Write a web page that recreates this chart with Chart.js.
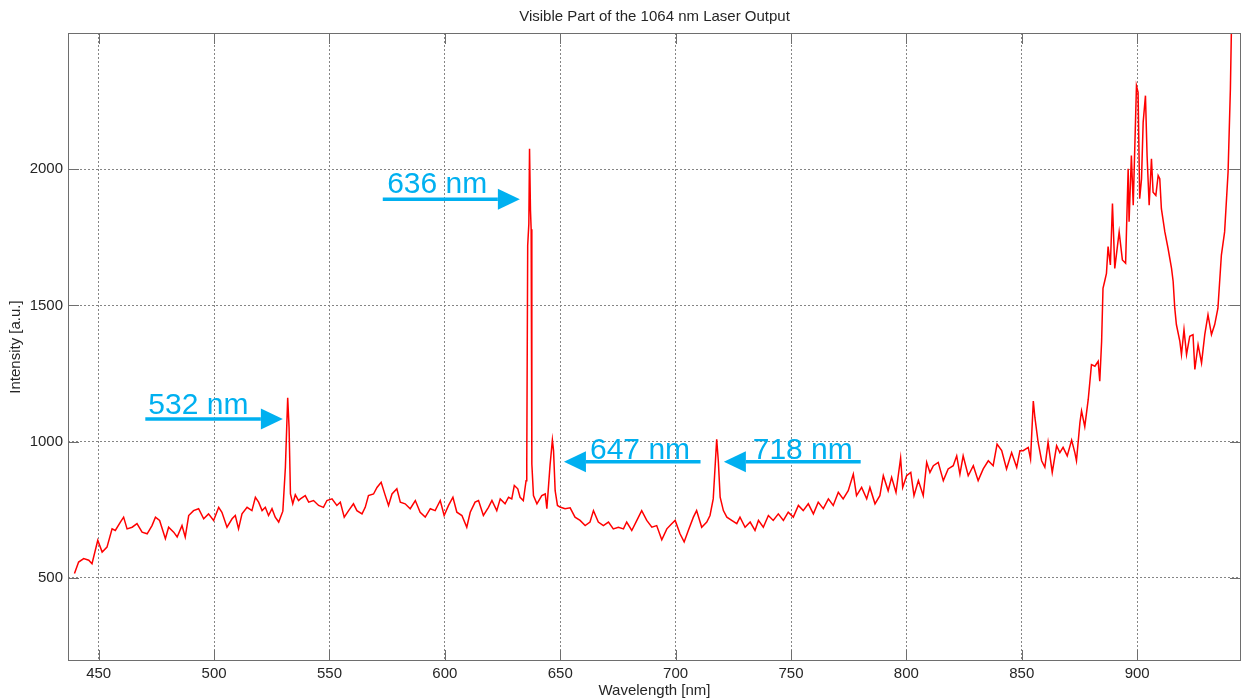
<!DOCTYPE html>
<html>
<head>
<meta charset="utf-8">
<script src="https://cdn.jsdelivr.net/npm/chart.js@4/dist/chart.umd.min.js"></script>
<style>
  body { margin: 0; background: #fff; }
  canvas { display: block; }
</style>
</head>
<body>
<canvas id="chart" width="1242" height="699"></canvas>
<script>
// spectrum
const wavelength = [
  439.5, 441.3, 443.5, 445.7, 447.1, 449.6, 451.5, 453.6, 455.8, 457.2,
  459.4, 460.8, 462.3, 464.5, 466.6, 468.8, 471.0, 473.1, 474.6, 476.4,
  478.9, 480.3, 482.5, 484.0, 486.1, 487.5, 489.0, 491.1, 493.3, 495.5,
  497.6, 499.8, 502.0, 503.4, 505.6, 507.8, 509.2, 510.6, 512.1, 514.3,
  516.4, 517.9, 519.3, 520.8, 522.2, 523.6, 525.1, 526.5, 528.0, 529.8,
  530.9, 531.9, 532.5, 533.1, 534.1, 535.2, 536.6, 537.4, 539.5, 541.0,
  543.1, 545.3, 547.4, 548.9, 551.1, 553.2, 554.7, 556.4, 558.3, 560.4,
  561.9, 564.1, 565.5, 566.9, 569.1, 570.6, 572.4, 574.2, 575.6, 577.1,
  579.2, 580.7, 582.8, 585.0, 587.2, 589.3, 591.5, 593.7, 595.8, 598.0,
  599.7, 601.6, 603.5, 605.2, 607.4, 609.5, 611.0, 613.1, 614.6, 616.7,
  618.9, 620.4, 622.5, 624.0, 626.1, 627.6, 629.0, 630.1, 631.6, 632.6,
  634.0, 635.2, 635.5, 635.9, 636.4, 636.7, 637.1, 637.4, 637.7, 638.4,
  639.9, 642.0, 643.5, 644.2, 645.6, 646.6, 647.1, 647.8, 648.8, 649.9,
  652.1, 654.3, 656.4, 658.6, 660.8, 662.9, 664.4, 666.5, 668.7, 670.9,
  673.0, 675.2, 677.4, 678.8, 681.0, 683.2, 685.3, 687.5, 689.7, 691.8,
  694.0, 696.2, 698.3, 699.8, 701.9, 703.7, 705.5, 707.7, 709.1, 711.3,
  713.5, 714.9, 716.3, 717.8, 718.5, 719.3, 720.7, 722.2, 724.3, 726.5,
  727.9, 730.1, 732.3, 734.4, 735.9, 738.0, 740.2, 742.3, 744.5, 746.7,
  748.8, 751.0, 753.2, 755.3, 757.5, 759.7, 761.8, 764.0, 766.2, 768.3,
  770.5, 772.6, 774.8, 777.0, 778.4, 780.6, 782.8, 784.2, 786.4, 788.5,
  790.0, 792.1, 793.6, 795.5, 797.5, 798.4, 800.1, 801.9, 803.3, 805.2,
  807.3, 808.8, 810.2, 811.7, 813.8, 816.0, 818.1, 820.3, 821.8, 823.2,
  824.6, 826.8, 829.0, 831.1, 833.3, 835.5, 837.6, 839.3, 841.3, 843.4,
  845.6, 847.8, 849.2, 850.6, 852.8, 853.8, 855.0, 855.7, 857.1, 858.6,
  860.0, 861.4, 863.2, 865.1, 866.5, 867.9, 869.7, 871.6, 873.0, 873.7,
  875.2, 875.9, 877.3, 878.8, 880.2, 881.7, 883.1, 883.8, 884.6, 885.2,
  885.9, 886.7, 887.4, 888.4, 889.3, 890.3, 892.2, 893.6, 895.0, 896.1,
  896.5, 897.5, 898.3, 899.7, 900.4, 901.1, 901.9, 902.6, 903.6, 904.3,
  905.2, 906.2, 906.9, 908.1, 909.1, 909.8, 910.5, 912.0, 913.4, 914.9,
  915.6, 916.3, 917.0, 918.5, 919.2, 920.3, 921.4, 922.8, 924.2, 925.0,
  926.4, 927.9, 929.3, 930.7, 932.2, 933.6, 935.0, 936.5, 937.9, 939.4,
  940.4, 940.8, 941.2
]
const intensity = [
  516, 558, 571, 565, 552, 638, 595, 613, 680, 674,
  705, 723, 680, 686, 699, 668, 662, 692, 723, 711,
  644, 686, 668, 650, 692, 650, 729, 747, 754, 717,
  735, 711, 759, 741, 686, 717, 729, 680, 735, 759,
  747, 796, 778, 747, 759, 729, 754, 723, 705, 745,
  905, 1161, 1052, 808, 772, 805, 784, 790, 802, 778,
  784, 766, 759, 784, 790, 766, 778, 723, 747, 772,
  747, 735, 759, 802, 808, 832, 851, 802, 766, 808,
  827, 778, 772, 754, 784, 741, 723, 754, 747, 784,
  729, 766, 796, 741, 729, 686, 741, 778, 784, 729,
  759, 784, 747, 790, 772, 796, 790, 839, 827, 796,
  784, 857, 918, 1720, 1800, 2075, 1850, 1780, 918, 802,
  772, 802, 808, 754, 915, 1006, 967, 820, 766, 760,
  754, 757, 723, 711, 692, 705, 747, 705, 692, 705,
  680, 686, 680, 705, 674, 711, 747, 711, 686, 692,
  640, 680, 699, 711, 662, 632, 674, 723, 747, 686,
  705, 729, 790, 1009, 930, 796, 747, 723, 711, 699,
  723, 686, 705, 674, 711, 686, 729, 711, 735, 711,
  741, 723, 766, 747, 772, 735, 778, 754, 790, 766,
  814, 790, 820, 881, 802, 832, 790, 832, 772, 802,
  875, 820, 869, 814, 940, 832, 875, 887, 802, 857,
  802, 924, 887, 912, 924, 857, 900, 912, 948, 881,
  948, 875, 912, 857, 900, 930, 912, 991, 967, 900,
  960, 906, 967, 967, 979, 936, 1149, 1088, 997, 930,
  906, 997, 887, 985, 960, 979, 948, 1006, 960, 930,
  1070, 1113, 1055, 1155, 1283, 1277, 1295, 1222, 1368, 1563,
  1588, 1618, 1716, 1649, 1874, 1636, 1770, 1667, 1655, 2002,
  1807, 2050, 1868, 2306, 2282, 1892, 1965, 2172, 2270, 2050,
  1868, 2038, 1916, 1904, 1977, 1965, 1855, 1770, 1709, 1636,
  1588, 1490, 1430, 1368, 1320, 1411, 1320, 1387, 1393, 1265,
  1356, 1289, 1393, 1466, 1393, 1430, 1490, 1685, 1770, 1990,
  2294, 2490, 2650
]

const xTicks = [450, 500, 550, 600, 650, 700, 750, 800, 850, 900]
const yTicks = [500, 1000, 1500, 2000]

const peakLabels = ['532 nm', '636 nm', '647 nm', '718 nm']

const chartTitle = 'Visible Part of the 1064 nm Laser Output'
const xTitle = 'Wavelength [nm]'
const yTitle = 'Intensity [a.u.]'

const FONT = "'Liberation Sans', Arial, sans-serif"
const TEXT = '#262626'
const AXIS = '#6e6e6e'
const GRID = '#858585'
const BLUE = '#00b0f0'

// arrow + text placement of the callouts, in data units
const callouts = [
  { text: 0, tx: 471.5, ty: 1102, from: 470.2, to: 529.8, ay: 1083 },
  { text: 1, tx: 575.0, ty: 1914, from: 573.1, to: 632.5, ay: 1890 },
  { text: 2, tx: 662.9, ty: 937, from: 710.8, to: 651.6, ay: 926 },
  { text: 3, tx: 733.4, ty: 937, from: 780.2, to: 720.9, ay: 926 }
]

let points = wavelength.map((w, i) => ({ x: w, y: intensity[i] }))

const decor = {
    id: 'decor',
    afterDraw(chart) {
        const { ctx, chartArea: a, scales: { x, y } } = chart
        ctx.save()

        // box and inward ticks
        ctx.strokeStyle = AXIS
        ctx.lineWidth = 1
        ctx.setLineDash([])
        ctx.strokeRect(Math.round(a.left) + 0.5, Math.round(a.top) + 0.5,
            Math.round(a.width) - 1, Math.round(a.height) - 1)
        ctx.beginPath()
        for (let v of xTicks) {
            let px = Math.round(x.getPixelForValue(v)) + 0.5
            ctx.moveTo(px, a.bottom); ctx.lineTo(px, a.bottom - 11)
            ctx.moveTo(px, a.top); ctx.lineTo(px, a.top + 11)
        }
        for (let v of yTicks) {
            let py = Math.round(y.getPixelForValue(v)) + 0.5
            ctx.moveTo(a.left, py); ctx.lineTo(a.left + 11, py)
            ctx.moveTo(a.right, py); ctx.lineTo(a.right - 11, py)
        }
        ctx.stroke()

        // titles
        ctx.fillStyle = TEXT
        ctx.font = '15px ' + FONT
        ctx.textAlign = 'center'
        ctx.textBaseline = 'middle'
        let cx = (a.left + a.right) / 2
        ctx.fillText(chartTitle, cx, 17)
        ctx.fillText(xTitle, cx, a.bottom + 30)
        ctx.save()
        ctx.translate(16, (a.top + a.bottom) / 2)
        ctx.rotate(-Math.PI / 2)
        ctx.fillText(yTitle, 0, 0)
        ctx.restore()

        // callouts
        ctx.fillStyle = BLUE
        ctx.strokeStyle = BLUE
        ctx.font = '30px ' + FONT
        ctx.textAlign = 'left'
        ctx.textBaseline = 'alphabetic'
        for (let c of callouts) {
            ctx.fillText(peakLabels[c.text], x.getPixelForValue(c.tx), y.getPixelForValue(c.ty))
            let x0 = x.getPixelForValue(c.from)
            let x1 = x.getPixelForValue(c.to)
            let ay = y.getPixelForValue(c.ay)
            let dir = Math.sign(x1 - x0)
            let head = 22
            ctx.lineWidth = 3.5
            ctx.beginPath()
            ctx.moveTo(x0, ay)
            ctx.lineTo(x1 - dir * head, ay)
            ctx.stroke()
            ctx.beginPath()
            ctx.moveTo(x1, ay)
            ctx.lineTo(x1 - dir * head, ay - 10.5)
            ctx.lineTo(x1 - dir * head, ay + 10.5)
            ctx.closePath()
            ctx.fill()
        }
        ctx.restore()
    }
}

new Chart(document.getElementById('chart'), {
    type: 'line',
    data: {
        datasets: [{
            data: points,
            borderColor: '#ff0000',
            borderWidth: 1.5,
            pointRadius: 0,
            tension: 0,
            fill: false
        }]
    },
    options: {
        responsive: false,
        animation: false,
        devicePixelRatio: 1,
        layout: { padding: { top: 33, right: 1, left: 0, bottom: 0 } },
        plugins: {
            legend: { display: false },
            tooltip: { enabled: false }
        },
        scales: {
            x: {
                type: 'linear',
                min: 436.7,
                max: 945,
                afterFit(s) { s.height = 38 },
                afterBuildTicks(s) { s.ticks = xTicks.map(v => ({ value: v })) },
                grid: { color: GRID, lineWidth: 1, drawTicks: false },
                border: { display: false, dash: [2, 2] },
                ticks: {
                    color: TEXT, font: { family: FONT, size: 15 }, padding: 4, maxRotation: 0,
                    callback: v => String(v)
                }
            },
            y: {
                type: 'linear',
                min: 195,
                max: 2500,
                afterFit(s) { s.width = 68 },
                afterBuildTicks(s) { s.ticks = yTicks.map(v => ({ value: v })) },
                grid: { color: GRID, lineWidth: 1, drawTicks: false },
                border: { display: false, dash: [2, 2] },
                ticks: {
                    color: TEXT, font: { family: FONT, size: 15 }, padding: 5,
                    callback: v => String(v)
                }
            }
        }
    },
    plugins: [decor]
})
</script>
</body>
</html>
